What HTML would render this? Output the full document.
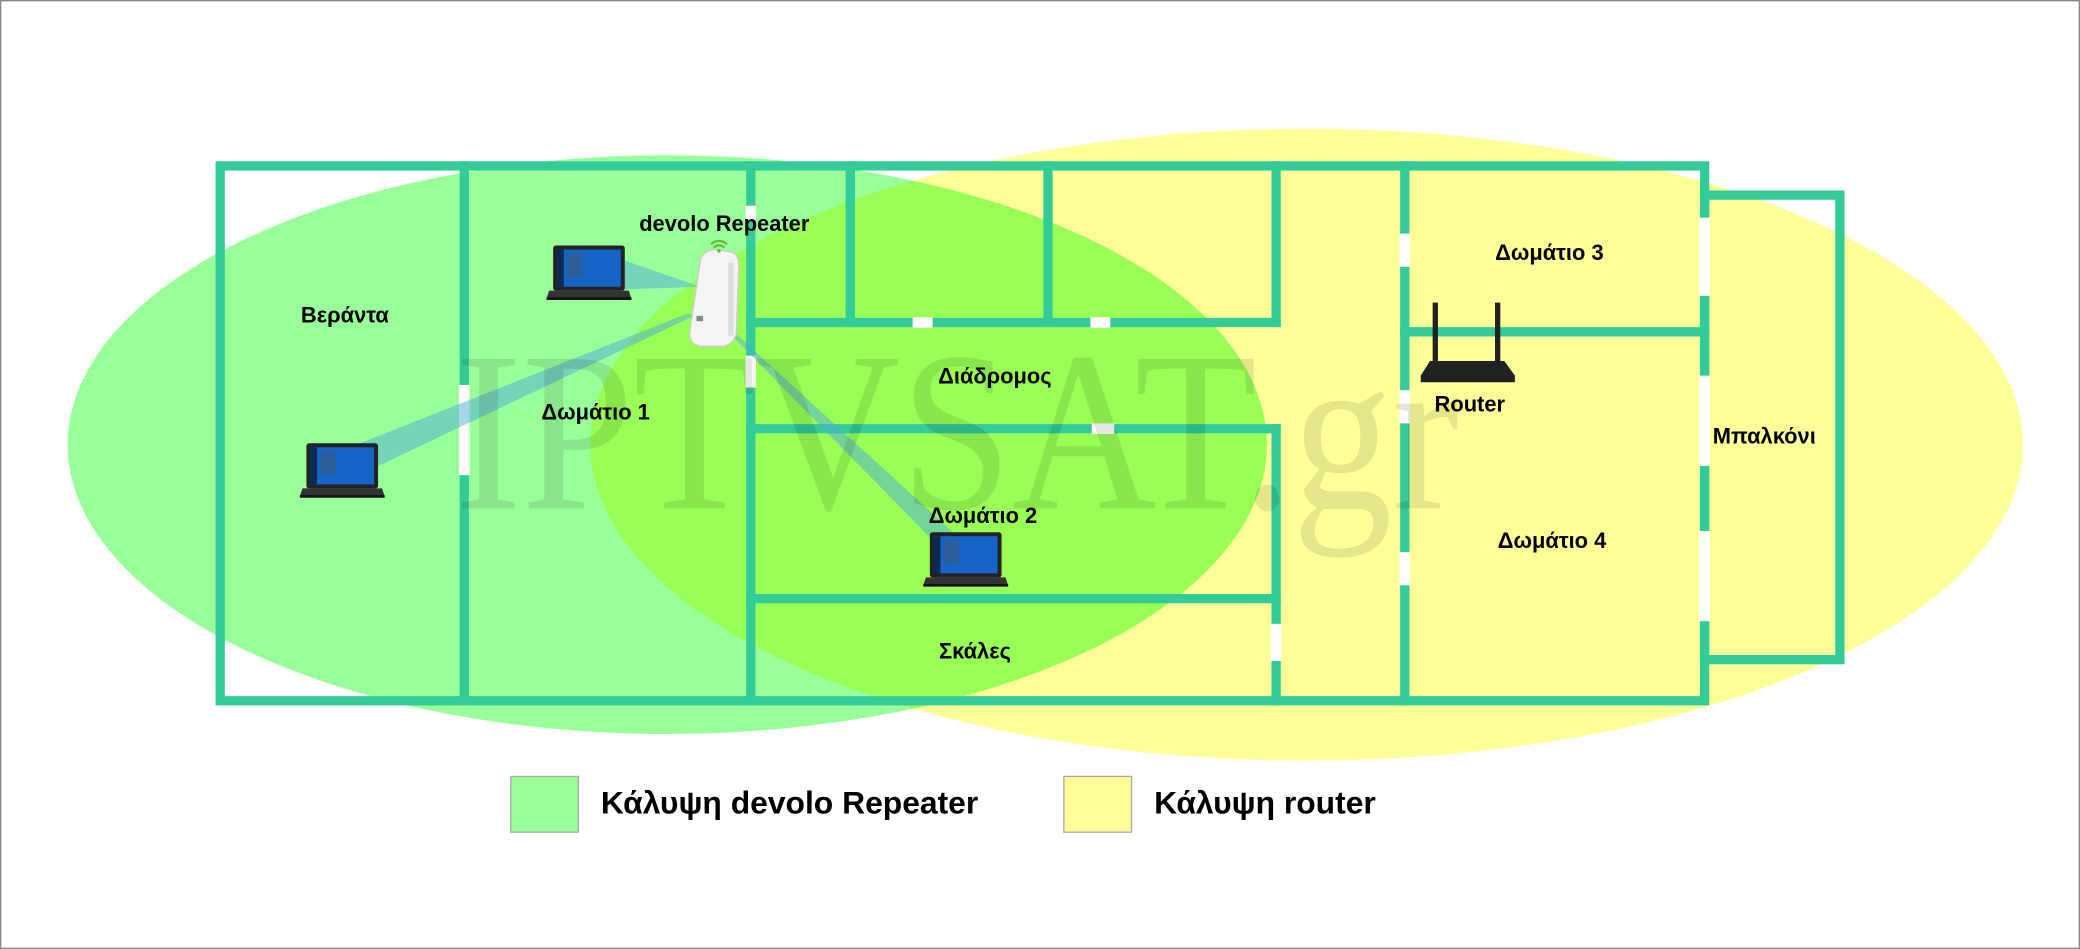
<!DOCTYPE html>
<html><head><meta charset="utf-8"><style>
html,body{margin:0;padding:0;background:#fff;}
svg{display:block;}
text{font-family:"Liberation Sans",sans-serif;font-weight:bold;fill:#000;}
</style></head><body>
<svg width="2080" height="949" viewBox="0 0 1568 715" preserveAspectRatio="none" xmlns="http://www.w3.org/2000/svg">
<defs>
<clipPath id="yc"><ellipse cx="985" cy="335" rx="540" ry="238"/></clipPath>
<g id="laptop">
<rect x="3" y="0" width="54" height="34" rx="2" fill="#222"/>
<rect x="6" y="3" width="48" height="28" fill="#1565c8"/>
<rect x="6" y="3" width="5" height="28" fill="#0a2a55"/>
<rect x="13" y="6" width="12" height="18" fill="#2a5d9a"/>
<path d="M0 34 L60 34 L62 40 L-2 40 Z" fill="#333"/>
<rect x="-2" y="39" width="64" height="2" fill="#111"/>
</g>
</defs>
<rect x="0.5" y="0.5" width="1567" height="714" fill="#fff" stroke="#888" stroke-width="1"/>
<ellipse cx="985" cy="335" rx="540" ry="238" fill="#ffff99"/>
<ellipse cx="503" cy="335" rx="452" ry="218" fill="#99ff99"/>
<ellipse cx="503" cy="335" rx="452" ry="218" fill="#99ff55" clip-path="url(#yc)"/>

<g stroke="#33cc99" stroke-width="7" fill="none" stroke-linecap="square">
<rect x="166" y="125" width="1119" height="403"/>
<rect x="1285" y="147" width="102" height="350"/>
<line x1="350" y1="125" x2="350" y2="528"/>
<line x1="566" y1="125" x2="566" y2="528"/>
<line x1="641" y1="125" x2="641" y2="243"/>
<line x1="790" y1="125" x2="790" y2="243"/>
<line x1="566" y1="243" x2="962" y2="243"/>
<line x1="962" y1="125" x2="962" y2="243"/>
<line x1="566" y1="323" x2="962" y2="323"/>
<line x1="962" y1="323" x2="962" y2="528"/>
<line x1="566" y1="451" x2="962" y2="451"/>
<line x1="1059" y1="125" x2="1059" y2="528"/>
<line x1="1059" y1="250" x2="1285" y2="250"/>
</g>
<g fill="#fff">
<rect x="346" y="290" width="8" height="68"/>
<rect x="562" y="155" width="8" height="11"/>
<rect x="562" y="268" width="8" height="24"/>
<rect x="688" y="239" width="15" height="8"/>
<rect x="822" y="239" width="15" height="8"/>
<rect x="823" y="319" width="17" height="8"/>
<rect x="958" y="470" width="8" height="28"/>
<rect x="1055" y="176" width="8" height="25"/>
<rect x="1055" y="294" width="8" height="25"/>
<rect x="1055" y="416" width="8" height="25"/>
<rect x="1281" y="164" width="8" height="59"/>
<rect x="1281" y="283" width="8" height="68"/>
<rect x="1281" y="400" width="8" height="68"/>
</g>

<g fill="rgba(80,170,220,0.5)">
<polygon points="470,196 528,216 470,218"/>
<polygon points="236,348 262,362 523,238 519,236"/>
<polygon points="546,247 552,249 726,408 708,412"/>
</g>

<use href="#laptop" transform="translate(414,185)"/>
<use href="#laptop" transform="translate(228,334)"/>
<use href="#laptop" transform="translate(698,401)"/>

<g>
<path d="M528 196 Q530 188 540 188 L552 190 Q557 192 557 200 L555 252 Q552 260 545 261 L528 261 Q519 259 520 250 Z" fill="#f4f4f4" stroke="#ccc" stroke-width="1"/>
<rect x="549" y="198" width="4" height="55" fill="#ddd"/>
<rect x="525" y="238" width="5" height="4" fill="#888"/>
<path d="M536 184 Q542 179 548 184" stroke="#66bb33" stroke-width="1.6" fill="none"/>
<path d="M538 186.5 Q542 183 546 186.5" stroke="#66bb33" stroke-width="1.6" fill="none"/>
<circle cx="542" cy="189" r="1.3" fill="#66bb33"/>
</g>

<g fill="#222">
<rect x="1080" y="228" width="4" height="47"/>
<rect x="1127" y="228" width="4" height="47"/>
<path d="M1078 272 L1134 272 L1142 283 L1142 288 L1071 288 L1071 283 Z"/>
</g>

<g font-size="16.5" text-anchor="middle">
<text x="260" y="243">Βεράντα</text>
<text x="449" y="316">Δωμάτιο 1</text>
<text x="546" y="174">devolo Repeater</text>
<text x="750" y="289">Διάδρομος</text>
<text x="741" y="394">Δωμάτιο 2</text>
<text x="735" y="496">Σκάλες</text>
<text x="1168" y="196">Δωμάτιο 3</text>
<text x="1108" y="310">Router</text>
<text x="1170" y="413">Δωμάτιο 4</text>
<text x="1330" y="334">Μπαλκόνι</text>
</g>

<text x="343" y="383" font-size="172" textLength="757" lengthAdjust="spacingAndGlyphs" style="font-family:'Liberation Serif',serif;font-weight:normal;fill:rgba(0,0,0,0.1)">IPTVSAT.gr</text>

<rect x="385" y="585" width="51" height="42" fill="#99ff99" stroke="#aaa" stroke-width="1"/>
<text x="453" y="613" font-size="24">Κάλυψη devolo Repeater</text>
<rect x="802" y="585" width="51" height="42" fill="#ffff99" stroke="#aaa" stroke-width="1"/>
<text x="870" y="613" font-size="24">Κάλυψη router</text>
</svg>
</body></html>
